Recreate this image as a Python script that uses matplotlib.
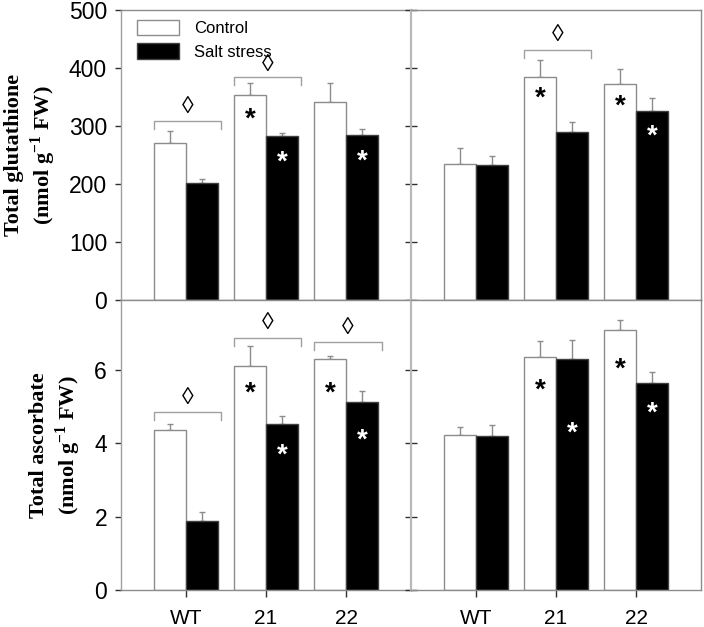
import numpy as np
import matplotlib

matplotlib.use("Agg")
import matplotlib.pyplot as plt  # noqa: E402

# ---- data ----
lines = ["WT", "21", "22"]

gsh_left_ctrl = [271, 353, 341]
gsh_left_ctrl_err = [20, 22, 33]
gsh_left_salt = [202, 283, 284]
gsh_left_salt_err = [6, 5, 11]

gsh_right_ctrl = [234, 384, 373]
gsh_right_ctrl_err = [28, 30, 25]
gsh_right_salt = [233, 290, 326]
gsh_right_salt_err = [16, 17, 22]

asa_left_ctrl = [4.35, 6.10, 6.29]
asa_left_ctrl_err = [0.16, 0.54, 0.08]
asa_left_salt = [1.87, 4.51, 5.13]
asa_left_salt_err = [0.25, 0.23, 0.30]

asa_right_ctrl = [4.21, 6.35, 7.09]
asa_right_ctrl_err = [0.24, 0.44, 0.27]
asa_right_salt = [4.20, 6.29, 5.65]
asa_right_salt_err = [0.30, 0.52, 0.30]

# significance marks: (group, series 0=control/1=salt, y of the star)
gsh_left_stars = [(1, 0, 323), (1, 1, 248), (2, 1, 251)]
gsh_right_stars = [(1, 0, 359), (2, 0, 345), (2, 1, 294)]
asa_left_stars = [(1, 0, 5.53), (1, 1, 3.84), (2, 0, 5.55), (2, 1, 4.25)]
asa_right_stars = [(1, 0, 5.62), (1, 1, 4.45), (2, 0, 6.18), (2, 1, 5.0)]

# brackets with a lozenge: (group, bracket y, lozenge y)
gsh_left_brackets = [(0, 309, 333), (1, 384, 406)]
gsh_right_brackets = [(1, 431, 457)]
asa_left_brackets = [(0, 4.85, 5.23), (1, 6.86, 7.27), (2, 6.75, 7.14)]
asa_right_brackets = []

SANS = "Liberation Sans"
SERIF = "Liberation Serif"
GRID_GREY = "#8c8c8c"
W = 0.4

plt.rcParams["mathtext.fontset"] = "custom"
plt.rcParams["mathtext.rm"] = "Liberation Serif:bold"
plt.rcParams["mathtext.bf"] = "Liberation Serif:bold"

fig = plt.figure(figsize=(7.04, 6.27), dpi=100)

left_x, right_x, col_w = 121 / 704, 411 / 704, 290 / 704
top_y, bot_y, row_h = 1 - 300 / 627, 37 / 627, 290 / 627


def draw_panel(rect, ctrl, ctrl_err, salt, salt_err, stars, brackets, ymax, yticks,
               left, bottom, ylabel=None):
    ax = fig.add_axes(rect)
    x = np.arange(len(lines))
    zeros = np.zeros(len(lines))
    ax.bar(x - W / 2, ctrl, W, color="white", edgecolor=GRID_GREY, lw=1,
           label="Control", zorder=2)
    ax.bar(x + W / 2, salt, W, color="black", edgecolor="#404040", lw=1,
           label="Salt stress", zorder=2)
    ax.errorbar(x - W / 2, ctrl, yerr=[zeros, ctrl_err], fmt="none",
                ecolor=GRID_GREY, elinewidth=1, capsize=2.5, capthick=1, zorder=1)
    ax.errorbar(x + W / 2, salt, yerr=[zeros, salt_err], fmt="none",
                ecolor=GRID_GREY, elinewidth=1, capsize=2.5, capthick=1, zorder=1)

    fs = 20
    for g, s, y in stars:
        ax.annotate("*", xy=(g - W / 2 + s * W, y), xytext=(0, -0.5 * fs),
                    textcoords="offset points", ha="center", va="baseline",
                    fontsize=fs, fontweight="bold", family=SANS,
                    color="black" if s == 0 else "white", zorder=3)

    drop = ymax * 8 / 290
    for g, by, dy in brackets:
        ax.plot([g - 0.40, g - 0.40, g + 0.44, g + 0.44],
                [by - drop, by, by, by - drop], color="#a0a0a0", lw=1)
        ax.text(g + 0.02, dy, "\u25ca", ha="center", va="center",
                fontsize=17, family=SANS)

    ax.set_xlim(-0.805, 2.805)
    ax.set_ylim(0, ymax)
    ax.set_yticks(yticks)
    for sp in ax.spines.values():
        sp.set_color(GRID_GREY)
        sp.set_linewidth(1)
    if left:
        ax.spines["left"].set_color("#a0a0a0")
        ax.tick_params(axis="y", direction="out", length=4, width=1,
                       color="#303030", labelsize=16.5, pad=6)
        for t in ax.get_yticklabels():
            t.set_family(SANS)
    else:
        ax.spines["left"].set_color("#b8b8b8")
        ax.spines["left"].set_linewidth(1.6)
        ax.tick_params(axis="y", direction="inout", length=9, width=1,
                       color="#303030", labelleft=False)
    if bottom:
        ax.set_xticks(x)
        ax.set_xticklabels(lines, family=SANS)
        ax.tick_params(axis="x", direction="out", length=5, width=1,
                       color="#303030", labelsize=15, pad=9)
    else:
        ax.set_xticks([])
    if ylabel:
        ax.set_ylabel(ylabel, family=SERIF, fontweight="bold", fontsize=16,
                      labelpad=8)
    return ax


ax_tl = draw_panel([left_x, top_y, col_w, row_h], gsh_left_ctrl, gsh_left_ctrl_err,
                   gsh_left_salt, gsh_left_salt_err, gsh_left_stars, gsh_left_brackets,
                   500, [0, 100, 200, 300, 400, 500], True, False,
                   "Total glutathione\n(nmol g$^{-1}$ FW)")
draw_panel([right_x, top_y, col_w, row_h], gsh_right_ctrl, gsh_right_ctrl_err,
           gsh_right_salt, gsh_right_salt_err, gsh_right_stars, gsh_right_brackets,
           500, [0, 100, 200, 300, 400, 500], False, False)
draw_panel([left_x, bot_y, col_w, row_h], asa_left_ctrl, asa_left_ctrl_err,
           asa_left_salt, asa_left_salt_err, asa_left_stars, asa_left_brackets,
           7.9, [0, 2, 4, 6], True, True,
           "Total ascorbate\n(nmol g$^{-1}$ FW)")
draw_panel([right_x, bot_y, col_w, row_h], asa_right_ctrl, asa_right_ctrl_err,
           asa_right_salt, asa_right_salt_err, asa_right_stars, asa_right_brackets,
           7.9, [0, 2, 4, 6], False, True)

ax_tl.legend(loc="upper left", bbox_to_anchor=(16 / 290, 1 - 10 / 290),
             frameon=False, borderpad=0, borderaxespad=0,
             handlelength=2.5, handleheight=1.05, handletextpad=0.95,
             labelspacing=0.42, prop={"family": SANS, "size": 12})

fig.savefig("out.png", dpi=100)
